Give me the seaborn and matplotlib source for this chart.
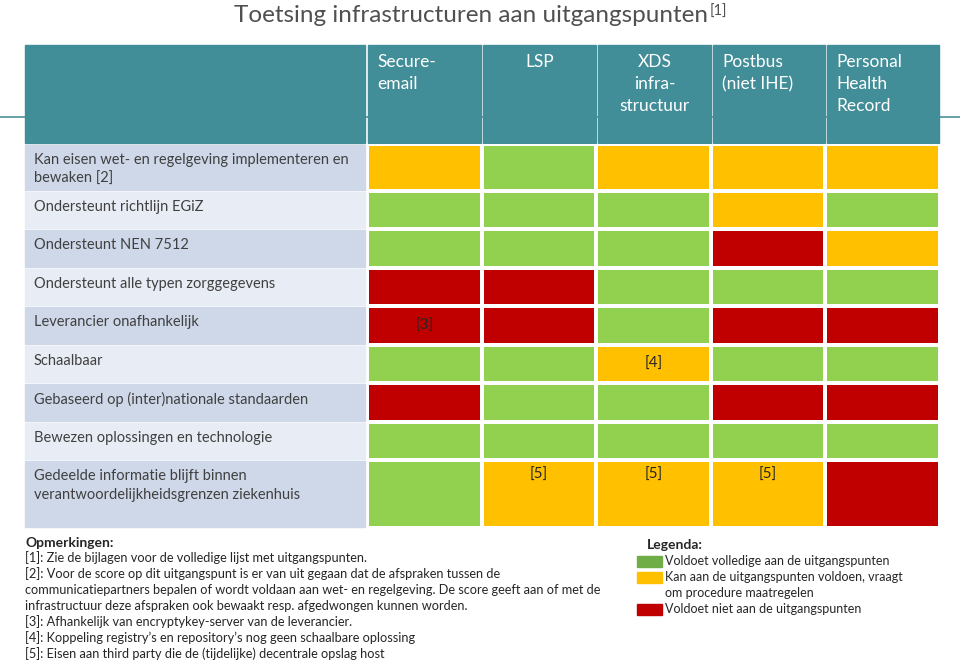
import numpy as np
import matplotlib
matplotlib.use('Agg')
import matplotlib.pyplot as plt
import seaborn as sns
from matplotlib.colors import ListedColormap
from matplotlib.patches import Rectangle

# chart data
title = 'Toetsing infrastructuren aan uitgangspunten'
criteria = [
    'Kan eisen wet- en regelgeving implementeren en\nbewaken [2]',
    'Ondersteunt richtlijn EGiZ',
    'Ondersteunt NEN 7512',
    'Ondersteunt alle typen zorggegevens',
    'Leverancier onafhankelijk',
    'Schaalbaar',
    'Gebaseerd op (inter)nationale standaarden',
    'Bewezen oplossingen en technologie',
    'Gedeelde informatie blijft binnen\nverantwoordelijkheidsgrenzen ziekenhuis',
]
infrastructures = ['Secure-\nemail', 'LSP', 'XDS\ninfra-\nstructuur',
                   'Postbus\n(niet IHE)', 'Personal\nHealth\nRecord']
# 0 = voldoet, 1 = kan voldoen (procedure maatregelen), 2 = voldoet niet
scores = [
    [1, 0, 1, 1, 1],
    [0, 0, 0, 1, 0],
    [0, 0, 0, 2, 1],
    [2, 2, 0, 0, 0],
    [2, 2, 0, 2, 2],
    [0, 0, 1, 0, 0],
    [2, 0, 0, 2, 2],
    [0, 0, 0, 0, 0],
    [0, 1, 1, 1, 2],
]
cell_notes = [
    ['', '', '', '', ''],
    ['', '', '', '', ''],
    ['', '', '', '', ''],
    ['', '', '', '', ''],
    ['[3]', '', '', '', ''],
    ['', '', '[4]', '', ''],
    ['', '', '', '', ''],
    ['', '', '', '', ''],
    ['', '[5]', '[5]', '[5]', ''],
]
remarks = [
    '[1]: Zie de bijlagen voor de volledige lijst met uitgangspunten.',
    '[2]: Voor de score op dit uitgangspunt is er van uit gegaan dat de afspraken tussen de',
    'communicatiepartners bepalen of wordt voldaan aan wet- en regelgeving. De score geeft aan of met de',
    'infrastructuur deze afspraken ook bewaakt resp. afgedwongen kunnen worden.',
    '[3]: Afhankelijk van encryptykey-server van de leverancier.',
    '[4]: Koppeling registry\u2019s en repository\u2019s nog geen schaalbare oplossing',
    '[5]: Eisen aan third party die de (tijdelijke) decentrale opslag host',
]
legend_labels = [
    'Voldoet volledige aan de uitgangspunten',
    'Kan aan de uitgangspunten voldoen, vraagt\nom procedure maatregelen',
    'Voldoet niet aan de uitgangspunten',
]

# colours
score_colors = ['#92D050', '#FFC000', '#C00000']
legend_colors = ['#70AD47', '#FFC000', '#C00000']
teal = '#428E98'
label_bg = ['#CFD8E9', '#E8ECF4']
text_col = '#404040'

sns.set_style('white')
plt.rcParams['font.family'] = ['Lato', 'DejaVu Sans']

W, H = 960, 663
fig = plt.figure(figsize=(W / 100, H / 100), dpi=100)
bg = fig.add_axes([0, 0, 1, 1])
bg.set_xlim(0, W)
bg.set_ylim(H, 0)
bg.axis('off')


def px_axes(x0, y0, x1, y1):
    return fig.add_axes([x0 / W, 1 - y1 / H, (x1 - x0) / W, (y1 - y0) / H])


# title
t = bg.text(471, 15, title, ha='center', va='center', fontsize=17.5,
            fontweight='normal', color='#505050')
bg.annotate('[1]', xy=(1, 1), xycoords=t, xytext=(1, 0), textcoords='offset points',
            ha='left', va='top', fontsize=10.5, color='#505050')

# slide line behind the table
bg.plot([0, W], [117, 117], color='#5A9AA3', lw=1.3, zorder=0)

# header
col_edges = [367, 482, 597, 712, 826, 940]
table_left = 25
bg.add_patch(Rectangle((table_left, 45), col_edges[0] - 2 - table_left, 98, color=teal, zorder=1))
header_align = ['left', 'center', 'center', 'left', 'left']
for j, name in enumerate(infrastructures):
    x0, x1 = col_edges[j] + 1, col_edges[j + 1] - 1
    bg.add_patch(Rectangle((x0, 45), x1 - x0, 98, color=teal, zorder=1))
    tx = x0 + 9 if header_align[j] == 'left' else (x0 + x1) / 2
    for m, part in enumerate(name.split('\n')):
        bg.text(tx, 62 + 22 * m, part, ha=header_align[j], va='center', fontsize=12.5,
                color='white', zorder=2)

# rows
row_edges = [144, 191, 229, 268, 306, 345, 383, 422, 460, 528]
cmap = ListedColormap(score_colors)
for i, label in enumerate(criteria):
    top, bot = row_edges[i], row_edges[i + 1]
    bg.add_patch(Rectangle((table_left, top + 1), col_edges[0] - 2 - table_left, bot - top - 2,
                           color=label_bg[i % 2], zorder=1))
    for m, part in enumerate(label.split('\n')):
        bg.text(34, top + 16 + 19 * m, part, ha='left', va='center', fontsize=10.5,
                color=text_col, zorder=2)

    ax = px_axes(col_edges[0], top, col_edges[-1], bot)
    sns.heatmap(np.array([scores[i]]), ax=ax, cmap=cmap, vmin=0, vmax=2, cbar=False,
                linewidths=1.6, linecolor='white',
                annot=np.array([cell_notes[i]]), fmt='',
                annot_kws={'fontsize': 11, 'color': '#262626'},
                xticklabels=False, yticklabels=False)
    if bot - top > 60:
        for txt in ax.texts:
            txt.set_y(0.22)

# remarks
bg.text(25, 543, 'Opmerkingen:', ha='left', va='center', fontsize=10,
        fontweight='bold', color='#262626')
for k, line in enumerate(remarks):
    bg.text(25, 558 + 16 * k, line, ha='left', va='center', fontsize=9.2, color='#262626')

# legend
bg.text(647, 545, 'Legenda:', ha='left', va='center', fontsize=10,
        fontweight='bold', color='#262626')
legend_y = [561, 577, 609]
for lab, c, y in zip(legend_labels, legend_colors, legend_y):
    bg.add_patch(Rectangle((637, y - 5.5), 25, 11, color=c))
    for m, part in enumerate(lab.split('\n')):
        bg.text(665, y + 16 * m, part, ha='left', va='center', fontsize=9.0, color='#262626')

fig.savefig('out.png', dpi=100)
